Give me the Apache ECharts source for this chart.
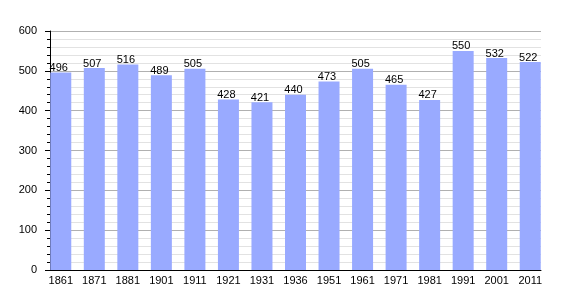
<!DOCTYPE html>
<html><head><meta charset="utf-8">
<script src="https://cdn.jsdelivr.net/npm/echarts@6/dist/echarts.min.js"></script>
<style>html,body{margin:0;padding:0;background:#fff}#c{width:570px;height:300px}</style>
</head><body><div id="c"></div>
<script>
const categories = ['1861','1871','1881','1901','1911','1921','1931','1936','1951','1961','1971','1981','1991','2001','2011'];
const values = [496,507,516,489,505,428,421,440,473,505,465,427,550,532,522];
const yTicks = [0,100,200,300,400,500,600];

const chart = echarts.init(document.getElementById('c'), null, {renderer:'canvas'});
const font = 'Liberation Sans, Arial, sans-serif';
chart.setOption({
  animation:false,
  backgroundColor:'#fff',
  grid:[
    {left:50, right:29, top:31, bottom:30},
    {left:44, right:23, top:31, bottom:30}
  ],
  xAxis:[
    {gridIndex:0, type:'value', min:0, max:1, axisLabel:{show:false}, axisTick:{show:false}, splitLine:{show:false},
     axisLine:{show:true, lineStyle:{color:'#000', width:1}}},
    {gridIndex:1, type:'category', data:categories, axisLine:{show:false}, axisTick:{show:false},
     axisLabel:{color:'#000', fontFamily:font, fontSize:11, margin:5, interval:0}}
  ],
  yAxis:[
    {gridIndex:0, type:'value', min:yTicks[0], max:yTicks[yTicks.length-1], interval:100,
     axisLine:{show:true, lineStyle:{color:'#000'}},
     axisTick:{show:true, length:5, lineStyle:{color:'#000'}},
     minorTick:{show:true, splitNumber:5, length:3, lineStyle:{color:'#000'}},
     axisLabel:{color:'#000', fontFamily:font, fontSize:11, margin:13},
     splitLine:{show:true, lineStyle:{color:'#b0b0b0', width:1}},
     minorSplitLine:{show:true, lineStyle:{color:'#e2e2e2', width:1}}},
    {gridIndex:1, type:'value', min:0, max:600, show:false, splitLine:{show:false}}
  ],
  series:[{
    type:'bar', xAxisIndex:1, yAxisIndex:1, data:values, barWidth:21,
    itemStyle:{color:'#99aaff'},
    label:{show:true, position:'top', distance:-1, offset:[-2,0], color:'#000', fontFamily:font, fontSize:11}
  }]
});
</script></body></html>
